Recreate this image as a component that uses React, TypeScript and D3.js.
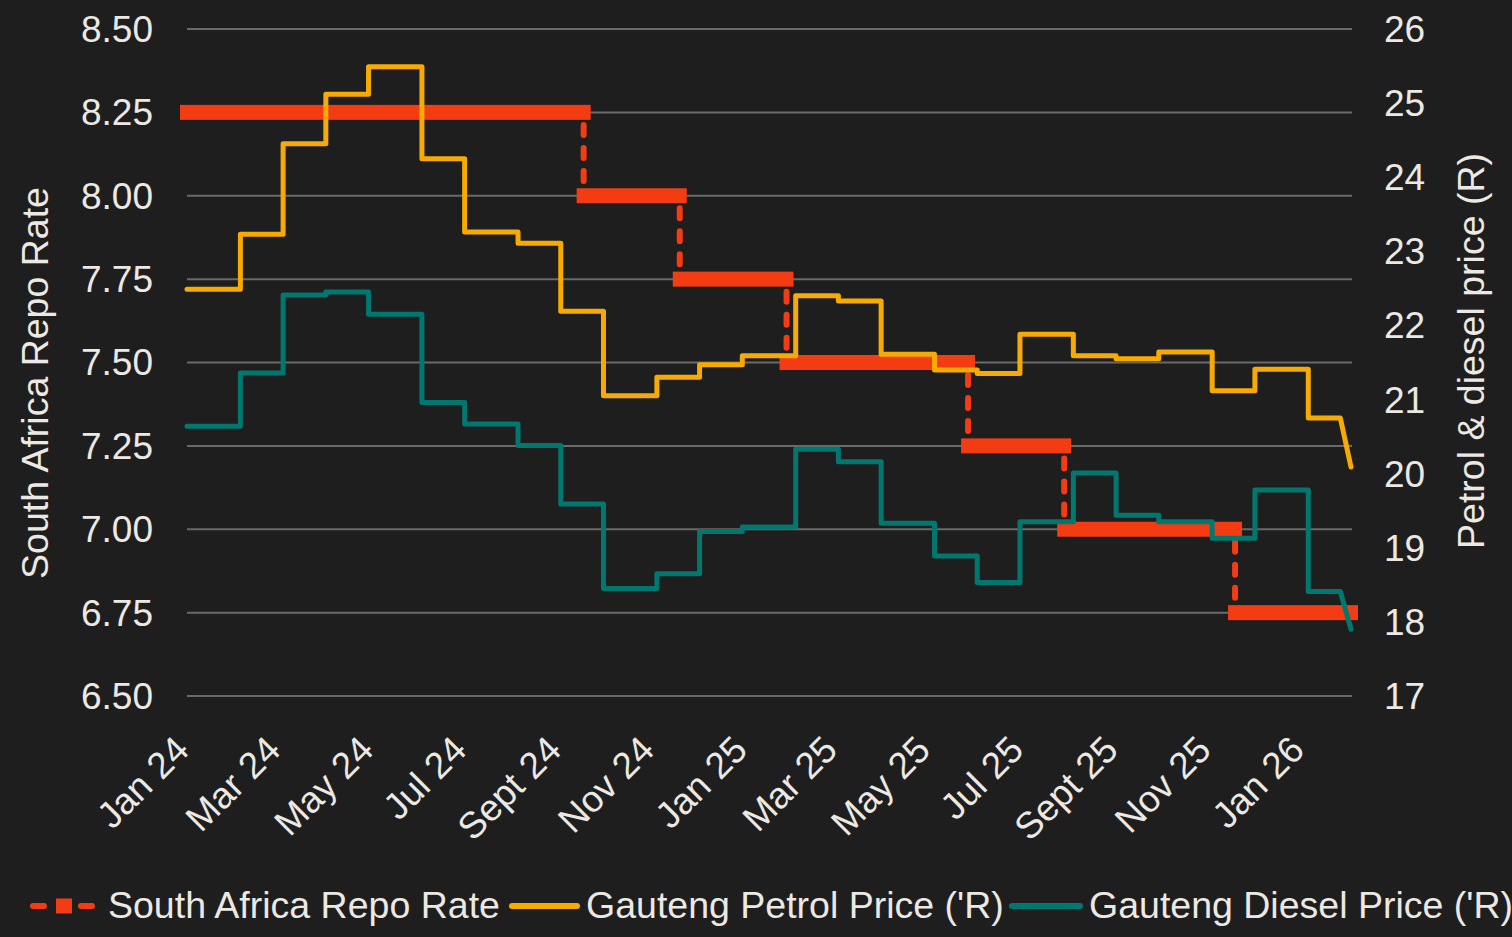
import React, { useEffect, useRef } from "react";
import * as d3 from "d3";

// fuel price adjustment dates (first Wednesday of each month) + last two weekly points
const priceDates = [
  "2024-01-03", "2024-02-07", "2024-03-06", "2024-04-03", "2024-05-01", "2024-06-05",
  "2024-07-03", "2024-08-07", "2024-09-04", "2024-10-02", "2024-11-06", "2024-12-04",
  "2025-01-01", "2025-02-05", "2025-03-05", "2025-04-02", "2025-05-07", "2025-06-04",
  "2025-07-02", "2025-08-06", "2025-09-03", "2025-10-01", "2025-11-05", "2025-12-03",
  "2026-01-07", "2026-01-28", "2026-02-04",
];
const petrolPrices = [
  22.49, 23.23, 24.45, 25.12, 25.49, 24.25, 23.26, 23.11, 22.19, 21.05, 21.3, 21.47,
  21.59, 22.4, 22.33, 21.61, 21.4, 21.35, 21.88, 21.59, 21.55, 21.64, 21.12, 21.41,
  20.75, 20.75, 20.09,
];
const dieselPrices = [
  20.64, 21.36, 22.41, 22.45, 22.15, 20.96, 20.67, 20.38, 19.59, 18.45, 18.65, 19.22,
  19.28, 20.33, 20.16, 19.33, 18.89, 18.53, 19.35, 20.01, 19.44, 19.35, 19.13, 19.78,
  18.41, 18.41, 17.9,
];

// repo rate decisions
const repoDates = [
  "2024-01-03", "2024-09-19", "2024-11-21", "2025-01-30",
  "2025-05-29", "2025-07-31", "2025-11-20", "2026-02-04",
];
const repoRates = [8.25, 8.0, 7.75, 7.5, 7.25, 7.0, 6.75, 6.75];

const tickDates = [
  "2024-01-03", "2024-03-03", "2024-05-03", "2024-07-03", "2024-09-03", "2024-11-03",
  "2025-01-03", "2025-03-03", "2025-05-03", "2025-07-03", "2025-09-03", "2025-11-03",
  "2026-01-03",
];
const tickLabels = [
  "Jan 24", "Mar 24", "May 24", "Jul 24", "Sept 24", "Nov 24", "Jan 25",
  "Mar 25", "May 25", "Jul 25", "Sept 25", "Nov 25", "Jan 26",
];
const repoTicks = [6.5, 6.75, 7.0, 7.25, 7.5, 7.75, 8.0, 8.25, 8.5];
const priceTicks = [17, 18, 19, 20, 21, 22, 23, 24, 25, 26];
const legendLabels = [
  "South Africa Repo Rate",
  "Gauteng Petrol Price ('R)",
  "Gauteng Diesel Price ('R)",
];

const RED = "#f43c12";
const YELLOW = "#f7ab00";
const TEAL = "#00786f";
const TEXT = "#ece9e4";
const FONT = "'Liberation Sans', Arial, sans-serif";

const W = 1512;
const H = 937;

const App = () => {
  const svgRef = useRef<SVGSVGElement | null>(null);

  useEffect(() => {
    const svg = d3.select(svgRef.current);
    svg.selectAll("*").remove();

    const margin = { top: 29, right: 161, bottom: 241, left: 187 };
    const parse = d3.utcParse("%Y-%m-%d");

    const x = d3
      .scaleUtc()
      .domain([parse(priceDates[0])!, parse(priceDates[priceDates.length - 1])!])
      .range([margin.left, W - margin.right]);
    const yL = d3.scaleLinear().domain([6.5, 8.5]).range([H - margin.bottom, margin.top]);
    const yR = d3.scaleLinear().domain([17, 26]).range([H - margin.bottom, margin.top]);

    svg.append("rect").attr("width", W).attr("height", H).attr("fill", "#1e1e1e");

    // gridlines (left axis)
    svg
      .append("g")
      .selectAll("line")
      .data(repoTicks)
      .join("line")
      .attr("x1", margin.left)
      .attr("x2", W - margin.right + 1)
      .attr("y1", (d) => yL(d))
      .attr("y2", (d) => yL(d))
      .attr("stroke", "#6a6a6a")
      .attr("stroke-width", 2);

    // left tick labels
    svg
      .append("g")
      .selectAll("text")
      .data(repoTicks)
      .join("text")
      .attr("x", 153)
      .attr("y", (d) => yL(d))
      .attr("dy", "0.35em")
      .attr("text-anchor", "end")
      .attr("fill", TEXT)
      .attr("font-size", 37)
      .attr("font-family", FONT)
      .text((d) => d.toFixed(2));

    // right tick labels
    svg
      .append("g")
      .selectAll("text")
      .data(priceTicks)
      .join("text")
      .attr("x", 1384)
      .attr("y", (d) => yR(d))
      .attr("dy", "0.35em")
      .attr("fill", TEXT)
      .attr("font-size", 37)
      .attr("font-family", FONT)
      .text((d) => d);

    // x tick labels
    svg
      .append("g")
      .selectAll("text")
      .data(tickDates)
      .join("text")
      .attr("transform", (d) => `translate(${x(parse(d)!) + 4},752) rotate(-45)`)
      .attr("text-anchor", "end")
      .attr("fill", TEXT)
      .attr("font-size", 37)
      .attr("font-family", FONT)
      .text((d, i) => tickLabels[i]);

    // axis titles
    svg
      .append("text")
      .attr("transform", `translate(48,383) rotate(-90)`)
      .attr("text-anchor", "middle")
      .attr("fill", TEXT)
      .attr("font-size", 37.5)
      .attr("font-family", FONT)
      .text("South Africa Repo Rate");
    svg
      .append("text")
      .attr("transform", `translate(1484,351) rotate(-90)`)
      .attr("text-anchor", "middle")
      .attr("fill", TEXT)
      .attr("font-size", 37.5)
      .attr("font-family", FONT)
      .text("Petrol & diesel price (R)");

    // repo rate: dashed connectors + thick bars
    const repo = repoDates.map((d, i) => ({ d: parse(d)!, v: repoRates[i] }));
    const half = 7.5;
    svg
      .append("g")
      .selectAll("line")
      .data(repo.slice(1, -1))
      .join("line")
      .attr("x1", (d) => x(d.d))
      .attr("x2", (d) => x(d.d))
      .attr("y1", (d, i) => yL(repo[i].v) + half + 5)
      .attr("y2", (d) => yL(d.v) - half)
      .attr("stroke", RED)
      .attr("stroke-width", 6)
      .attr("stroke-linecap", "round")
      .attr("stroke-dasharray", "10,13");
    svg
      .append("g")
      .selectAll("rect")
      .data(repo.slice(0, -1))
      .join("rect")
      .attr("x", (d) => x(d.d) - 7)
      .attr("width", (d, i) => x(repo[i + 1].d) - x(d.d) + 14)
      .attr("y", (d) => yL(d.v) - half)
      .attr("height", half * 2)
      .attr("fill", RED);

    // price lines
    const drawPrice = (values: number[], color: string) => {
      const pts = priceDates.map((d, i) => ({ d: parse(d)!, v: values[i] }));
      const last = pts[pts.length - 1];
      const step = d3
        .line<{ d: Date; v: number }>()
        .x((p) => x(p.d))
        .y((p) => yR(p.v))
        .curve(d3.curveStepAfter);
      svg
        .append("path")
        .attr("d", `${step(pts.slice(0, -1))}L${x(last.d)},${yR(last.v)}`)
        .attr("fill", "none")
        .attr("stroke", color)
        .attr("stroke-width", 5)
        .attr("stroke-linejoin", "round")
        .attr("stroke-linecap", "round");
    };
    drawPrice(petrolPrices, YELLOW);
    drawPrice(dieselPrices, TEAL);

    // legend
    const lg = svg.append("g");
    const ly = 906;
    lg.append("line").attr("x1", 33).attr("x2", 44).attr("y1", ly).attr("y2", ly)
      .attr("stroke", RED).attr("stroke-width", 6).attr("stroke-linecap", "round");
    lg.append("line").attr("x1", 81).attr("x2", 92).attr("y1", ly).attr("y2", ly)
      .attr("stroke", RED).attr("stroke-width", 6).attr("stroke-linecap", "round");
    lg.append("rect").attr("x", 56).attr("y", ly - 7.5).attr("width", 16).attr("height", 15)
      .attr("fill", RED);
    lg.append("line").attr("x1", 512).attr("x2", 577).attr("y1", ly).attr("y2", ly)
      .attr("stroke", YELLOW).attr("stroke-width", 6).attr("stroke-linecap", "round");
    lg.append("line").attr("x1", 1012).attr("x2", 1080).attr("y1", ly).attr("y2", ly)
      .attr("stroke", TEAL).attr("stroke-width", 6).attr("stroke-linecap", "round");
    lg.selectAll("text")
      .data(legendLabels)
      .join("text")
      .attr("x", (d, i) => [108, 586, 1089][i])
      .attr("y", 918)
      .attr("fill", TEXT)
      .attr("font-size", 37.5)
      .attr("font-family", FONT)
      .text((d) => d);
  }, []);

  return (
    <div style={{ position: "absolute", left: 0, top: 0 }}>
      <svg ref={svgRef} width={W} height={H} style={{ display: "block" }} />
    </div>
  );
};

export default App;
